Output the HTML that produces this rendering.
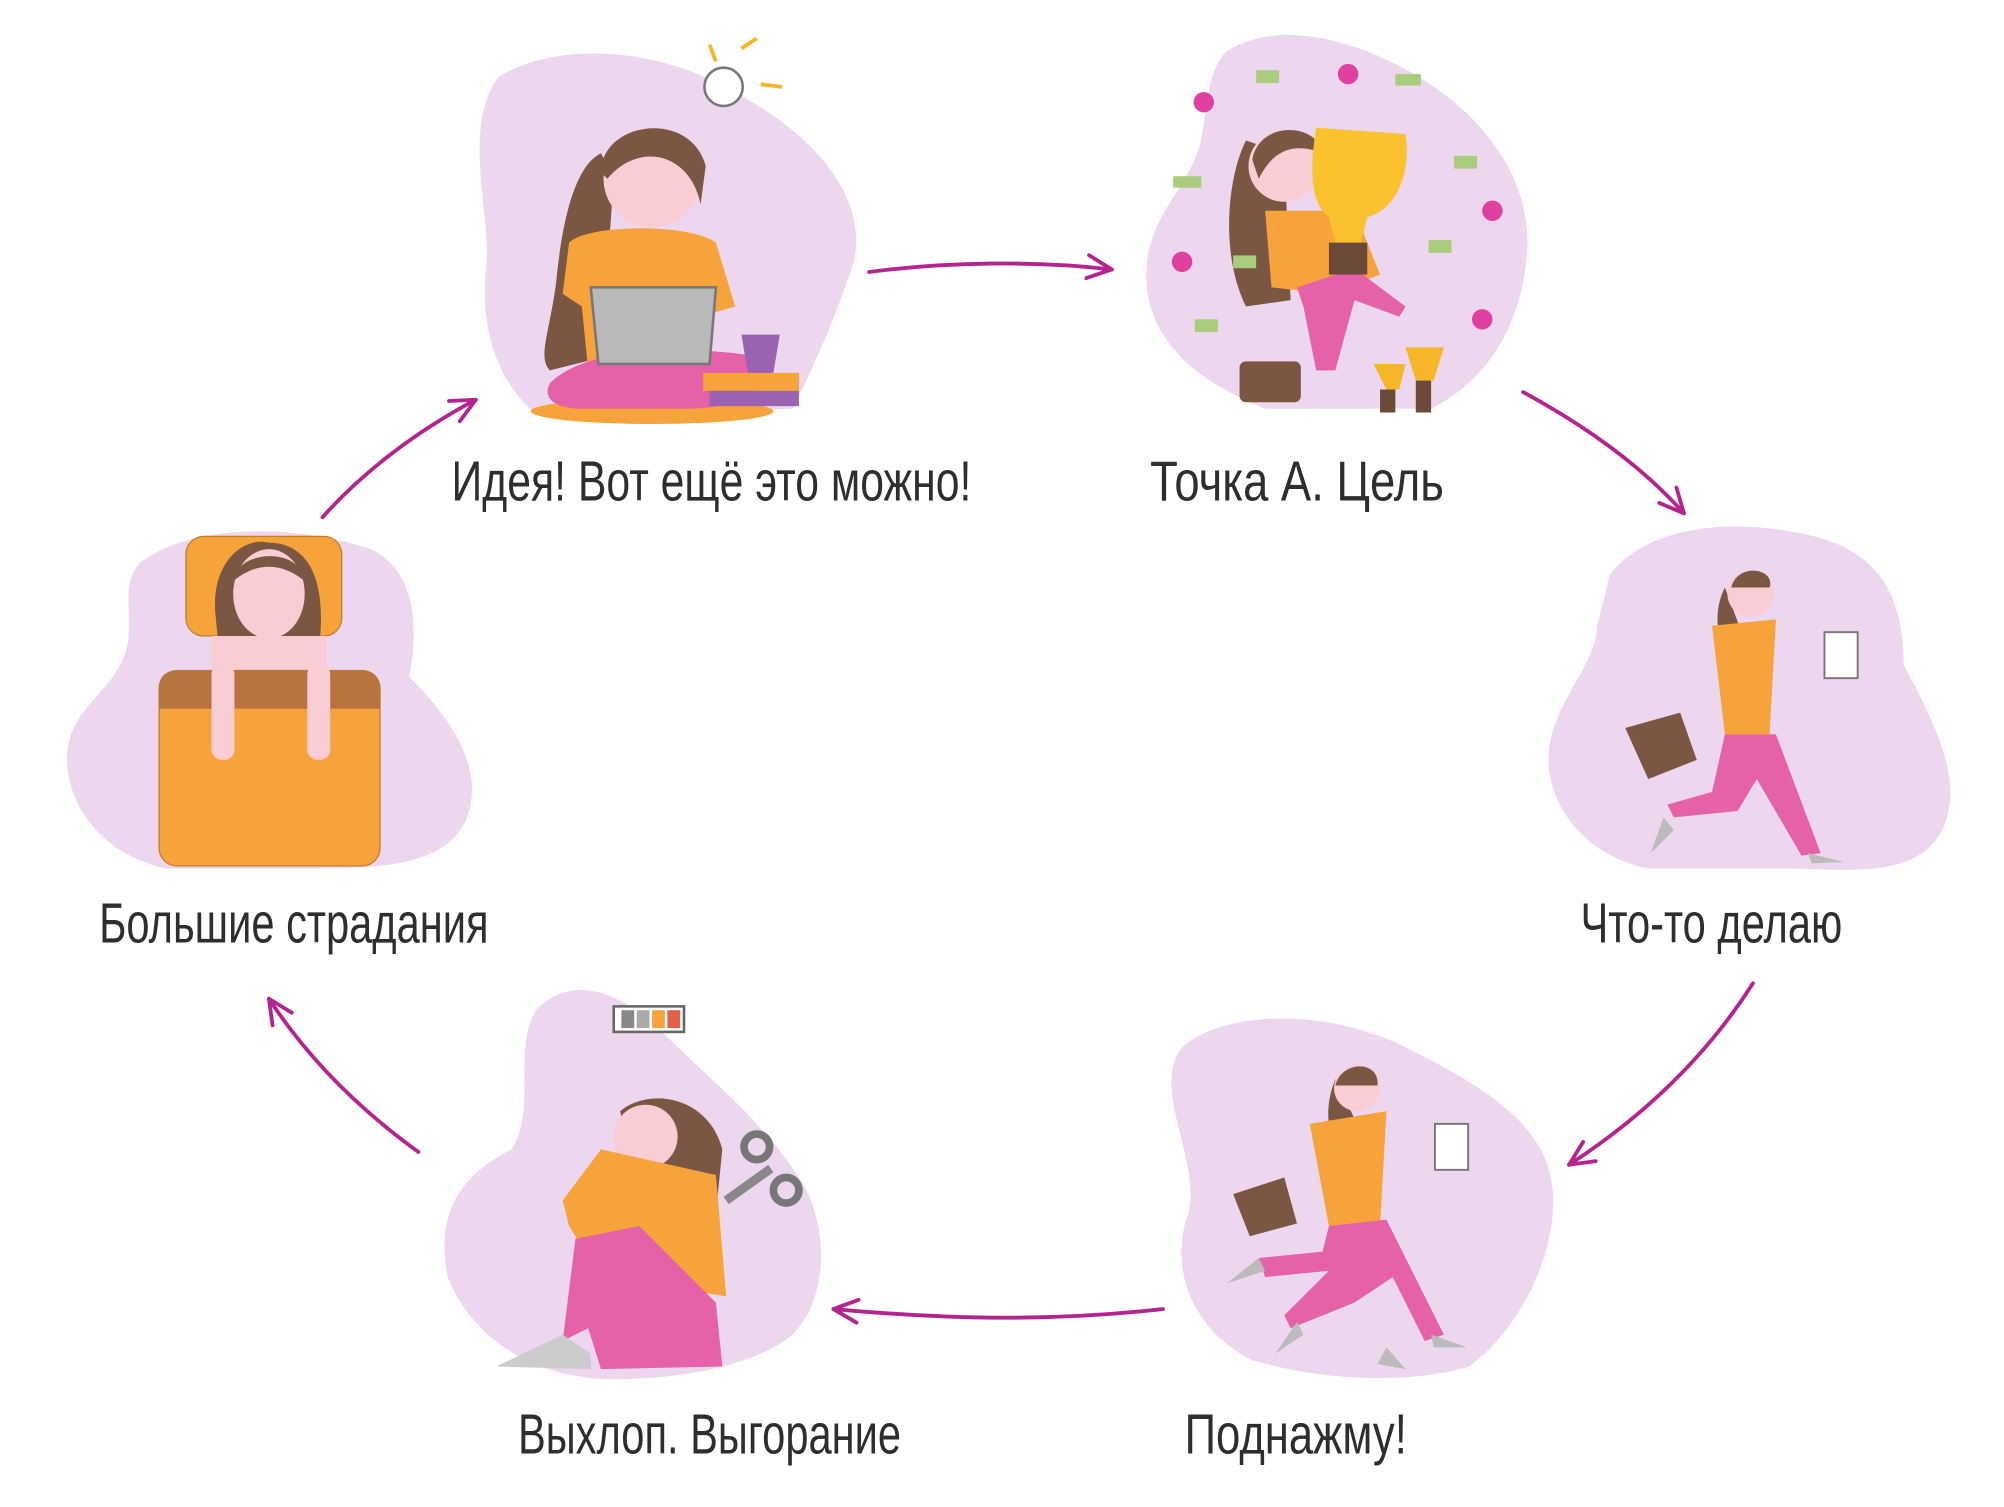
<!DOCTYPE html>
<html><head><meta charset="utf-8"><style>
html,body{margin:0;padding:0;background:#fff;}
svg{display:block;}
text{font-family:"Liberation Sans",sans-serif;fill:#2e2e2e;}
</style></head><body>
<svg width="2004" height="1507" viewBox="0 0 1568 1180" xmlns="http://www.w3.org/2000/svg">
<defs>
<marker id="ah" markerWidth="26" markerHeight="26" refX="22" refY="13" orient="auto" markerUnits="userSpaceOnUse" viewBox="0 0 26 26">
<path d="M3,4 L22,13 L3,22" fill="none" stroke="#b3248f" stroke-width="3" stroke-linecap="round" stroke-linejoin="round"/>
</marker>
</defs>
<g fill="#ecd7ee">
<path d="M390,60 C440,30 520,40 570,70 C630,100 680,150 668,205 C655,245 640,280 620,320 L420,325 C390,300 375,260 380,210 C385,170 360,100 390,60Z"/>
<path d="M960,40 C1000,15 1060,30 1110,60 C1160,90 1200,140 1195,200 C1190,260 1160,300 1120,320 L990,320 C940,300 900,270 897,220 C895,170 930,150 940,110 C945,80 945,55 960,40Z"/>
<path d="M1260,450 C1290,410 1360,405 1420,420 C1480,435 1490,480 1490,520 C1510,560 1540,610 1520,650 C1500,690 1440,680 1400,680 L1290,680 C1240,670 1210,630 1212,590 C1215,550 1250,520 1250,490 Z"/>
<path d="M925,820 C960,790 1040,790 1100,820 C1160,850 1210,880 1215,930 C1220,980 1190,1040 1150,1070 C1100,1085 1030,1080 980,1065 C930,1040 915,990 930,950 C940,910 900,850 925,820Z"/>
<path d="M420,790 C450,760 490,780 520,810 C560,850 600,880 630,930 C650,970 645,1020 620,1045 C590,1070 530,1080 480,1080 C420,1080 370,1050 350,1000 C340,950 360,920 400,900 C420,870 400,820 420,790Z"/>
<path d="M110,440 C150,410 230,410 290,430 C330,450 325,500 320,530 C350,560 380,600 365,640 C350,680 290,680 240,680 L130,680 C80,670 50,630 52,590 C55,550 95,540 100,500 C102,470 95,455 110,440Z"/>
</g>
<!-- figure 1 -->
<g>
<ellipse cx="510" cy="322" rx="95" ry="10" fill="#f5a33a"/>
<path d="M470,120 C450,130 440,170 435,220 C430,260 420,280 430,290 L470,280 L480,140Z" fill="#7b5743"/>
<path d="M445,190 C460,175 540,175 560,190 L575,240 L540,250 L540,290 L460,290 L455,240 L440,230Z" fill="#f5a33a"/>
<circle cx="510" cy="140" r="38" fill="#f9cdd3"/>
<path d="M470,135 C470,95 540,85 552,130 L548,160 C540,120 500,110 475,140Z" fill="#7b5743"/>
<path d="M430,300 C460,270 540,270 600,280 C610,300 580,320 540,320 L450,320 C430,318 425,310 430,300Z" fill="#e562a8"/>
<path d="M462,225 L560,225 L555,285 L468,285Z" fill="#b9b9b9" stroke="#777" stroke-width="2"/>
<rect x="550" y="292" width="75" height="14" fill="#f5a33a"/>
<rect x="555" y="306" width="70" height="12" fill="#9a62b0"/>
<path d="M580,262 L610,262 L605,292 L585,292Z" fill="#9a62b0"/>
<circle cx="566" cy="68" r="15" fill="#fff" stroke="#777" stroke-width="2"/>
<path d="M555,35 L560,48 M580,38 L592,30 M595,66 L612,68" stroke="#f5b62a" stroke-width="3"/>
</g>
<!-- figure 2 -->
<g>
<path d="M975,110 C960,140 955,200 975,240 L1010,235 L1005,120Z" fill="#7b5743"/>
<circle cx="1005" cy="130" r="28" fill="#f9cdd3"/>
<path d="M980,125 C985,95 1030,95 1035,120 C1010,110 995,120 985,140Z" fill="#7b5743"/>
<path d="M990,165 L1060,165 L1080,215 L1040,230 L995,225Z" fill="#f5a33a"/>
<path d="M1015,225 L1060,210 L1100,240 L1095,248 L1060,235 L1045,290 L1030,290 L1020,240Z" fill="#e562a8"/>
<path d="M1030,100 L1100,105 C1105,140 1090,165 1070,170 L1065,190 L1045,190 L1040,170 C1025,160 1025,130 1030,100Z" fill="#f9c22e"/>
<rect x="1040" y="190" width="30" height="25" fill="#6b4a3a"/>
<rect x="970" y="283" width="48" height="32" rx="5" fill="#7b5743"/>
<path d="M1075,285 L1100,285 L1095,305 L1085,305Z M1100,272 L1130,272 L1122,298 L1108,298Z" fill="#f5b62a"/>
<rect x="1080" y="305" width="12" height="18" fill="#6b4a3a"/><rect x="1108" y="298" width="12" height="25" fill="#6b4a3a"/>
<g fill="#e0409f"><circle cx="942" cy="80" r="8"/><circle cx="1055" cy="58" r="8"/><circle cx="1168" cy="165" r="8"/><circle cx="925" cy="205" r="8"/><circle cx="1160" cy="250" r="8"/></g>
<g fill="#a9cc7d"><rect x="983" y="55" width="18" height="10"/><rect x="1092" y="58" width="20" height="9"/><rect x="918" y="138" width="22" height="9"/><rect x="1138" y="122" width="18" height="10"/><rect x="1118" y="188" width="18" height="10"/><rect x="935" y="250" width="18" height="10"/><rect x="965" y="200" width="18" height="10"/></g>
</g>
<!-- figure 3 -->
<g>
<path d="M1350,460 C1340,480 1345,500 1350,510 L1365,500Z" fill="#7b5743"/>
<circle cx="1370" cy="465" r="18" fill="#f9cdd3"/>
<path d="M1355,460 C1360,440 1390,445 1385,460Z" fill="#7b5743"/>
<path d="M1340,490 L1390,485 L1385,575 L1350,575Z" fill="#f5a33a"/>
<path d="M1350,575 L1390,575 L1425,668 L1410,670 L1375,610 L1360,635 L1310,640 L1305,630 L1340,620Z" fill="#e562a8"/>
<path d="M1272,570 L1315,558 L1328,595 L1290,610Z" fill="#7b5743"/>
<rect x="1428" y="495" width="26" height="36" fill="#fff" stroke="#777" stroke-width="1.5"/>
<path d="M1302,640 L1292,668 L1310,650Z M1415,668 L1443,675 L1418,676Z" fill="#bbb"/>
</g>
<!-- figure 4 -->
<g>
<path d="M1045,845 C1035,870 1040,890 1048,900 L1062,880Z" fill="#7b5743"/>
<circle cx="1062" cy="852" r="18" fill="#f9cdd3"/>
<path d="M1045,850 C1050,830 1080,830 1078,850Z" fill="#7b5743"/>
<path d="M1025,880 L1085,870 L1080,960 L1040,960Z" fill="#f5a33a"/>
<path d="M1040,960 L1085,955 L1130,1045 L1115,1050 L1090,1000 L1060,1020 L1010,1040 L1005,1030 L1040,995 L990,1000 L985,985 L1035,980Z" fill="#e562a8"/>
<path d="M965,935 L1005,922 L1015,958 L978,968Z" fill="#7b5743"/>
<rect x="1123" y="880" width="26" height="36" fill="#fff" stroke="#777" stroke-width="1.5"/>
<path d="M985,985 L960,1005 L990,995Z M1015,1035 L998,1060 L1020,1045Z M1085,1055 L1100,1072 L1078,1068Z M1120,1045 L1148,1055 L1122,1055Z" fill="#bbb"/>
</g>
<!-- figure 5 -->
<g>
<rect x="480" y="788" width="55" height="20" fill="#fff" stroke="#666" stroke-width="2"/>
<rect x="486" y="791" width="10" height="14" fill="#888"/><rect x="498" y="791" width="10" height="14" fill="#aaa"/><rect x="510" y="791" width="10" height="14" fill="#f5a33a"/><rect x="522" y="791" width="10" height="14" fill="#e0604a"/>
<path d="M485,870 C510,850 555,860 565,900 L560,950 L500,940Z" fill="#7b5743"/>
<circle cx="505" cy="890" r="25" fill="#f9cdd3"/>
<path d="M470,900 L560,920 L568,1015 L470,1000 L445,960 L440,940Z" fill="#f5a33a"/>
<path d="M450,970 L500,960 L560,1020 L565,1070 L470,1072 L460,1040 L440,1050Z" fill="#e562a8"/>
<path d="M388,1070 L440,1045 L462,1060 L462,1072Z" fill="#ccc"/>
<circle cx="592" cy="898" r="10" fill="none" stroke="#777" stroke-width="6"/><circle cx="615" cy="932" r="10" fill="none" stroke="#777" stroke-width="6"/>
<path d="M568,940 L603,915" stroke="#888" stroke-width="7"/>
</g>
<!-- figure 6 -->
<g>
<rect x="145" y="420" width="122" height="78" rx="14" fill="#f5a33a" stroke="#c07d32" stroke-width="1"/>
<path d="M168,480 C165,440 190,420 210,425 C235,425 255,445 250,500 L170,500Z" fill="#7b5743"/>
<ellipse cx="210" cy="465" rx="28" ry="35" fill="#f9cdd3"/>
<path d="M182,455 C185,430 235,428 238,455 C220,440 200,440 182,455Z" fill="#7b5743"/>
<rect x="165" y="498" width="90" height="40" fill="#f9cdd3"/>
<rect x="124" y="525" width="173" height="153" rx="14" fill="#f5a33a" stroke="#c07d32" stroke-width="1"/>
<path d="M124,540 C124,528 130,525 140,525 L282,525 C292,525 297,530 297,540 L297,555 L124,555Z" fill="#b9743d"/>
<rect x="165" y="520" width="18" height="75" rx="8" fill="#f9cdd3"/><rect x="240" y="520" width="18" height="75" rx="8" fill="#f9cdd3"/>
</g>
<!-- arrows -->
<g fill="none" stroke="#b3248f" stroke-width="3" stroke-linecap="round" marker-end="url(#ah)">
<path d="M680,213 C740,205 810,204 870,211"/>
<path d="M1192,307 C1240,333 1285,365 1318,402"/>
<path d="M1372,770 C1335,828 1285,875 1228,912"/>
<path d="M910,1025 C820,1035 740,1033 652,1025"/>
<path d="M327,902 C280,868 240,828 210,782"/>
<path d="M252,405 C283,370 325,338 372,313"/>
</g>
<!-- labels -->
<g font-size="44">
<text x="353" y="392" textLength="407" lengthAdjust="spacingAndGlyphs">Идея! Вот ещё это можно!</text>
<text x="900" y="392" textLength="230" lengthAdjust="spacingAndGlyphs">Точка А. Цель</text>
<text x="1237" y="738" textLength="205" lengthAdjust="spacingAndGlyphs">Что-то делаю</text>
<text x="927" y="1138" textLength="174" lengthAdjust="spacingAndGlyphs">Поднажму!</text>
<text x="405" y="1138" textLength="300" lengthAdjust="spacingAndGlyphs">Выхлоп. Выгорание</text>
<text x="77" y="738" textLength="305" lengthAdjust="spacingAndGlyphs">Большие страдания</text>
</g>
</svg>
</body></html>
